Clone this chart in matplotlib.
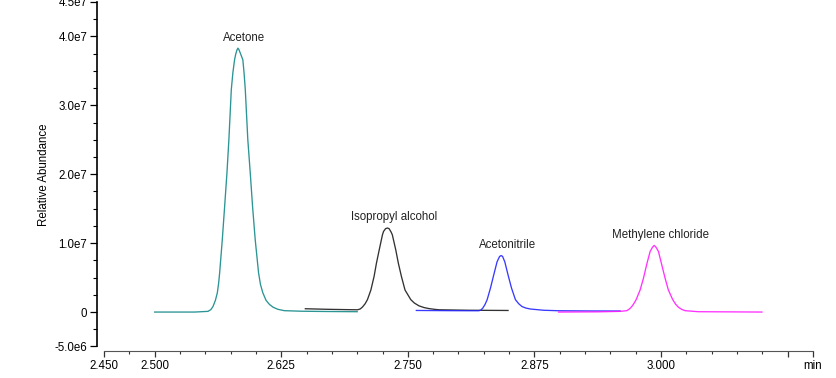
import matplotlib.pyplot as plt
from matplotlib.ticker import FixedLocator, FixedFormatter, MultipleLocator

plt.rcParams['font.family'] = ['Liberation Sans', 'DejaVu Sans']

# retention time (min) and intensity (x 1e7)
acetone_t = [2.5000, 2.5200, 2.5396, 2.5527, 2.5555, 2.5576, 2.5600, 2.5619, 2.5632,
             2.5642, 2.5668, 2.5691, 2.5714, 2.5733, 2.5757, 2.5773, 2.5789, 2.5800,
             2.5812, 2.5822, 2.5832, 2.5848, 2.5871, 2.5883, 2.5895, 2.5920, 2.5944,
             2.5967, 2.5993, 2.6026, 2.6045, 2.6068, 2.6100, 2.6134, 2.6170, 2.6216,
             2.6281, 2.6450, 2.6700, 2.7000]
acetone_i = [0.000, 0.000, 0.000, 0.010, 0.035, 0.080, 0.170, 0.280, 0.420,
             0.570, 1.050, 1.530, 2.020, 2.500, 3.230, 3.480, 3.660, 3.740,
             3.800, 3.830, 3.810, 3.750, 3.660, 3.470, 3.230, 2.500, 2.020,
             1.530, 1.050, 0.570, 0.400, 0.280, 0.170, 0.110, 0.070, 0.040,
             0.020, 0.012, 0.008, 0.005]

ipa_t = [2.6488, 2.6700, 2.6900, 2.7003, 2.7030, 2.7052, 2.7078, 2.7101, 2.7135,
         2.7167, 2.7190, 2.7217, 2.7249, 2.7260, 2.7280, 2.7298, 2.7315, 2.7335,
         2.7347, 2.7381, 2.7406, 2.7436, 2.7472, 2.7529, 2.7565, 2.7610, 2.7660,
         2.7709, 2.7760, 2.7807, 2.8102, 2.8489]
ipa_i = [0.048, 0.040, 0.035, 0.033, 0.045, 0.073, 0.120, 0.180, 0.320,
         0.520, 0.710, 0.900, 1.120, 1.170, 1.210, 1.220, 1.210, 1.160,
         1.120, 0.900, 0.710, 0.520, 0.320, 0.180, 0.130, 0.090, 0.065,
         0.050, 0.040, 0.033, 0.026, 0.023]

acn_t = [2.7584, 2.7906, 2.8102, 2.8201, 2.8222, 2.8240, 2.8262, 2.8283, 2.8316,
         2.8348, 2.8381, 2.8405, 2.8420, 2.8435, 2.8457, 2.8489, 2.8523, 2.8562,
         2.8595, 2.8627, 2.8665, 2.8710, 2.8840, 2.8988, 2.9283, 2.9596]
acn_i = [0.023, 0.020, 0.019, 0.019, 0.030, 0.058, 0.110, 0.180, 0.350,
         0.540, 0.730, 0.805, 0.820, 0.808, 0.730, 0.540, 0.350, 0.180,
         0.120, 0.080, 0.058, 0.044, 0.026, 0.019, 0.016, 0.015]

dcm_t = [2.8988, 2.9382, 2.9596, 2.9662, 2.9688, 2.9711, 2.9732, 2.9754, 2.9793,
         2.9826, 2.9858, 2.9892, 2.9915, 2.9931, 2.9948, 2.9974, 3.0006, 3.0040,
         3.0072, 3.0115, 3.0143, 3.0171, 3.0205, 3.0237, 3.0366, 3.0996]
dcm_i = [0.000, 0.003, 0.010, 0.020, 0.045, 0.080, 0.125, 0.180, 0.320,
         0.490, 0.690, 0.880, 0.940, 0.967, 0.945, 0.880, 0.690, 0.490,
         0.320, 0.180, 0.115, 0.070, 0.038, 0.020, 0.005, 0.000]

names = ['Acetone', 'Isopropyl alcohol', 'Acetonitrile', 'Methylene chloride']
colors = ['#148888', '#1c1c1c', '#2424ff', '#ff1cff']

y_ticks = [-5.0e6, 0, 1.0e7, 2.0e7, 3.0e7, 4.0e7, 4.5e7]
y_labels = ['-5.0e6', '0', '1.0e7', '2.0e7', '3.0e7', '4.0e7', '4.5e7']
x_ticks = [2.450, 2.500, 2.625, 2.750, 2.875, 3.000, 3.125, 3.150]
x_labels = ['2.450', '2.500', '2.625', '2.750', '2.875', '3.000', '', 'min']

fig = plt.figure(figsize=(8.37, 3.78), dpi=100)
ax = fig.add_axes([97 / 837, 1 - 346.5 / 378, 716 / 837, 344.5 / 378])

traces = [(acetone_t, acetone_i), (ipa_t, ipa_i), (acn_t, acn_i), (dcm_t, dcm_i)]
for (t, i), name, c in zip(traces, names, colors):
    y = [v * 1e7 for v in i]
    ax.plot(t, y, color=c, lw=0.95, alpha=0.9, solid_joinstyle='round')
    k = y.index(max(y))
    ax.annotate(name, (t[k], y[k]), xytext=(4.5, 5.5), textcoords='offset points',
                ha='center', va='baseline', fontsize=8.3, color='#222222')

ax.set_xlim(2.4431, 3.150)
ax.set_ylim(-5e6, 4.5e7)

ax.spines['top'].set_visible(False)
ax.spines['right'].set_visible(False)
ax.spines['bottom'].set_position(('outward', 3))
ax.spines['bottom'].set_bounds(2.450, 3.150)
ax.spines['bottom'].set_color('#555555')
ax.spines['left'].set_linewidth(1.2)

ax.yaxis.set_major_locator(FixedLocator(y_ticks))
ax.yaxis.set_major_formatter(FixedFormatter(y_labels))
ax.yaxis.set_minor_locator(MultipleLocator(2.5e6))
ax.xaxis.set_major_locator(FixedLocator(x_ticks))
ax.xaxis.set_major_formatter(FixedFormatter(x_labels))
ax.xaxis.set_minor_locator(MultipleLocator(0.025))

ax.tick_params(axis='y', which='major', length=5, width=0.9, labelsize=8.3, pad=2)
ax.tick_params(axis='y', which='minor', length=3, width=0.8)
ax.tick_params(axis='x', which='major', length=4, width=0.9, labelsize=8.3, pad=3,
               color='#333333')
ax.tick_params(axis='x', which='minor', length=2.5, width=0.8, color='#333333')

ax.set_ylabel('Relative Abundance', fontsize=8.3, labelpad=3)

fig.savefig('out.png', dpi=100)
